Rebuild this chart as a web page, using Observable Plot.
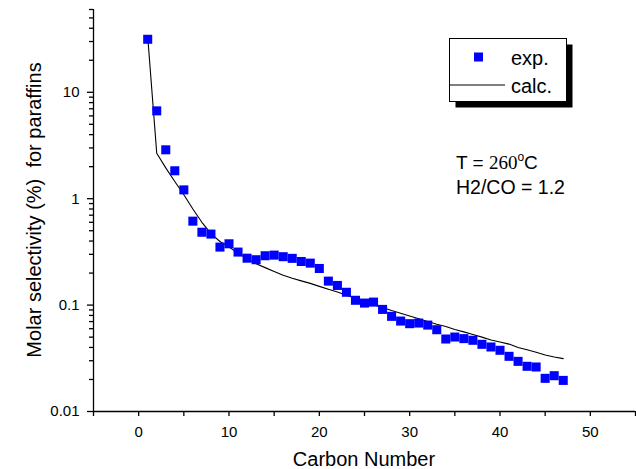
<!DOCTYPE html>
<html><head><meta charset="utf-8">
<script src="https://cdn.jsdelivr.net/npm/d3@7"></script>
<script src="https://cdn.jsdelivr.net/npm/@observablehq/plot@0.6"></script>
<style>
body{margin:0;background:#fff;}
#wrap{position:relative;width:636px;height:469px;font-family:"Liberation Sans",Arial,sans-serif;}
#over{position:absolute;left:0;top:0;pointer-events:none;}
</style></head><body><div id="wrap"><div id="chart"></div></div>
<script>
// ---- data ----
const carbonNumber = [1,2,3,4,5,6,7,8,9,10,11,12,13,14,15,16,17,18,19,20,21,22,23,24,25,26,27,28,29,30,31,32,33,34,35,36,37,38,39,40,41,42,43,44,45,46,47];
const expValues = [31.5,6.69,2.88,1.83,1.21,0.615,0.484,0.465,0.351,0.377,0.315,0.276,0.267,0.291,0.295,0.285,0.275,0.257,0.248,0.221,0.168,0.153,0.132,0.111,0.1045,0.1067,0.0911,0.0784,0.0708,0.0669,0.0678,0.0649,0.0587,0.048,0.0501,0.0484,0.0467,0.0428,0.0404,0.0376,0.033,0.0296,0.0266,0.0262,0.0205,0.0217,0.0196];
const calcValues = [33.4,2.67,1.95,1.45,1.09,0.80,0.60,0.47,0.396,0.351,0.308,0.273,0.245,0.225,0.207,0.191,0.179,0.169,0.160,0.150,0.141,0.133,0.124,0.116,0.108,0.101,0.095,0.089,0.084,0.079,0.0745,0.070,0.066,0.063,0.059,0.056,0.053,0.050,0.047,0.045,0.043,0.040,0.038,0.036,0.034,0.0325,0.0314];
const xDomain = [-5, 55];
const yDomain = [0.01, 60];
const xTicks = [-5,0,5,10,15,20,25,30,35,40,45,50,55];
const xTickLabels = [0,10,20,30,40,50];
const yMajorTicks = [0.01,0.1,1,10];
const yMinorTicks = [0.02,0.03,0.04,0.05,0.06,0.07,0.08,0.09,0.2,0.3,0.4,0.5,0.6,0.7,0.8,0.9,2,3,4,5,6,7,8,9,20,30,40,50,60];

const expData = carbonNumber.map((c,i)=>({c, v: expValues[i]}));
const calcData = carbonNumber.map((c,i)=>({c, v: calcValues[i]}));

const font = '"Liberation Sans", Arial, sans-serif';
const plot = Plot.plot({
  width: 636, height: 469,
  marginLeft: 93, marginRight: 1, marginTop: 9, marginBottom: 58,
  x: {domain: xDomain},
  y: {type: "log", domain: yDomain},
  style: {fontFamily: font, fontSize: "15px", color: "#000", background: "#fff", overflow: "visible"},
  marks: [
    Plot.ruleX([xDomain[0]], {stroke: "#000", strokeWidth: 1.3}),
    Plot.ruleY([yDomain[0]], {stroke: "#000", strokeWidth: 1.3}),
    Plot.axisX({ticks: xTicks, tickSize: 5, tickPadding: 10, tickFormat: d => xTickLabels.includes(d) ? String(d) : "", label: null, strokeWidth: 1.3}),
    Plot.axisY({ticks: yMajorTicks, tickSize: 6, tickPadding: 8, tickFormat: d => String(d), label: null, strokeWidth: 1.3}),
    Plot.axisY({ticks: yMinorTicks, tickSize: 4, tickFormat: () => "", label: null, strokeWidth: 1.3}),
    Plot.line(calcData, {x: "c", y: "v", stroke: "#000", strokeWidth: 1.1}),
    Plot.dot(expData, {x: "c", y: "v", symbol: "square", r: 5.1, fill: "#0000ff", stroke: "none"})
  ]
});
document.getElementById("chart").appendChild(plot);

// overlay: titles, legend, annotation
const ns = "http://www.w3.org/2000/svg";
const over = document.createElementNS(ns, "svg");
over.setAttribute("id","over"); over.setAttribute("width",636); over.setAttribute("height",469);
over.innerHTML = `
<g font-family='${font}' fill='#000'>
  <text x="364" y="466" font-size="20" text-anchor="middle">Carbon Number</text>
  <text transform="translate(41,210) rotate(-90)" font-size="20" text-anchor="middle" xml:space="preserve">Molar selectivity (%)  for paraffins</text>
  <rect x="455.5" y="44.5" width="117" height="63" fill="#000"/>
  <rect x="449.5" y="38.5" width="117" height="63" fill="#fff" stroke="#000" stroke-width="1"/>
  <rect x="474" y="52.5" width="9" height="9" fill="#0000ff"/>
  <text x="511" y="65" font-size="20">exp.</text>
  <line x1="449.5" x2="505" y1="85" y2="85" stroke="#000" stroke-width="1"/>
  <text x="511" y="93" font-size="20">calc.</text>
  <text x="456" y="169" font-size="19"><tspan>T = </tspan><tspan font-family="'Liberation Serif', 'Times New Roman', serif">260</tspan><tspan font-size="12" dy="-8">o</tspan><tspan dy="8">C</tspan></text>
  <text x="456" y="194" font-size="19.5">H2/CO = 1.2</text>
</g>`;
document.getElementById("wrap").appendChild(over);
</script>
</body></html>
